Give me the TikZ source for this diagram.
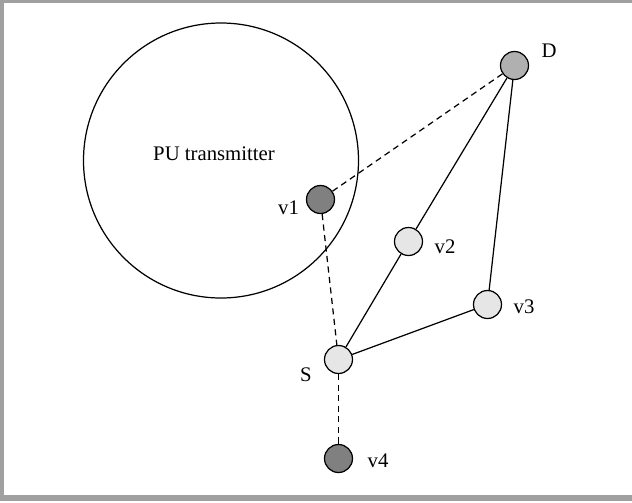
\documentclass[tikz,border=0pt]{standalone}
\usepackage{fontspec}
\setmainfont{Liberation Serif}
\definecolor{framegray}{RGB}{160,160,160}
\definecolor{puser}{RGB}{128,128,128}
\definecolor{dest}{RGB}{176,176,176}
\definecolor{relay}{RGB}{230,230,230}
\tikzset{
    vertex/.style={circle, draw, line width=0.7pt, minimum size=0.56cm, inner sep=0pt},
    tag/.style={inner sep=0pt, font=\fontsize{11.8}{14}\selectfont},
    link/.style={line width=0.7pt},
    dashlink/.style={line width=0.7pt, dash pattern=on 3.5pt off 2.5pt}
}
\begin{document}
\begin{tikzpicture}
        \useasboundingbox (0,0) rectangle (12.64,-10.04);
        \fill [framegray] (0,0) rectangle (12.64,-0.06);
        \fill [framegray] (0,0) rectangle (0.09,-10.02);
        \fill [framegray] (0,-9.9) rectangle (12.64,-10.02);
        \draw [line width=0.7pt] (4.42,-3.21) circle (2.75);
        \node [tag] (pu) at (4.28,-3.08) {PU transmitter};
        \node [vertex, fill=dest] (D) at (10.29,-1.31) {};
        \node [vertex, fill=puser] (v1) at (6.41,-3.99) {};
        \node [vertex, fill=relay] (v2) at (8.17,-4.83) {};
        \node [vertex, fill=relay] (v3) at (9.75,-6.09) {};
        \node [vertex, fill=relay] (S) at (6.77,-7.19) {};
        \node [vertex, fill=puser] (v4) at (6.77,-9.17) {};
        \node [tag] (lD) at (10.98,-1.01) {D};
        \node [tag] (lv1) at (5.77,-4.15) {v1};
        \node [tag] (lv2) at (8.90,-4.94) {v2};
        \node [tag] (lv3) at (10.48,-6.14) {v3};
        \node [tag] (lS) at (6.12,-7.50) {S};
        \node [tag] (lv4) at (7.56,-9.22) {v4};
        \draw [dashlink] (v1) -- (D);
        \draw [dashlink] (v1) -- (S);
        \draw [dashlink] (S) -- (v4);
        \draw [link] (S) -- (v2) -- (D);
        \draw [link] (S) -- (v3) -- (D);
\end{tikzpicture}
\end{document}
